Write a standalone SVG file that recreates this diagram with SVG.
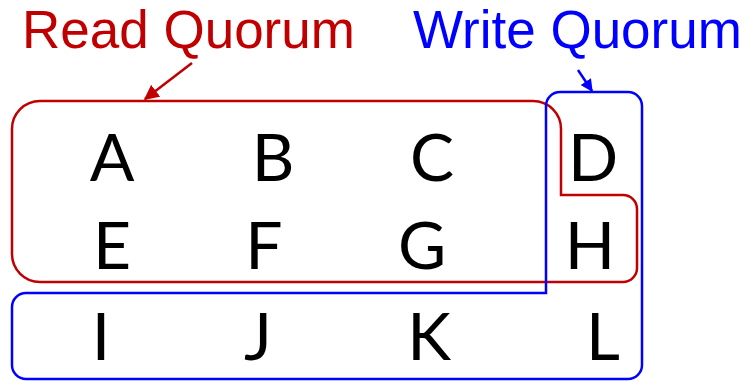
<svg xmlns="http://www.w3.org/2000/svg" width="752" height="381" viewBox="0 0 752 381">
  <style>
    .title { font-family: "Liberation Sans", Arial, sans-serif; font-size: 53px; }
    .node { font-family: Lato, "Open Sans", sans-serif; font-size: 66px; fill: #000; text-anchor: middle; }
    .read { fill: none; stroke: #C00000; stroke-width: 2.5; }
    .write { fill: none; stroke: #0000FF; stroke-width: 2.5; }
  </style>
  <defs>
    <marker id="headRed" viewBox="0 0 10 10" refX="9" refY="5" markerWidth="6" markerHeight="6" markerUnits="strokeWidth" orient="auto">
      <path d="M0,0 L10,5 L0,10 Z" fill="#C00000"/>
    </marker>
    <marker id="headBlue" viewBox="0 0 10 10" refX="9" refY="5" markerWidth="5" markerHeight="5" markerUnits="strokeWidth" orient="auto">
      <path d="M0,0 L10,5 L0,10 Z" fill="#0000FF"/>
    </marker>
  </defs>

  <rect width="752" height="381" fill="#fff"/>

  <!-- quorum labels -->
  <text class="title" x="22" y="48" fill="#C00000">Read Quorum</text>
  <text class="title" x="413" y="48" fill="#0000FF">Write Quorum</text>

  <!-- read quorum outline -->
  <g id="read-quorum">
    <path class="read" d="M40,101 H533 A28,28 0 0 1 561,129 V195 H623 A14,14 0 0 1 637,209 V268 A14,14 0 0 1 623,282 H40 A28,28 0 0 1 12,254 V129 A28,28 0 0 1 40,101 Z"/>
  </g>

  <!-- write quorum outline -->
  <g id="write-quorum">
    <path class="write" d="M560,92 H628 A14,14 0 0 1 642,106 V365 A14,14 0 0 1 628,379 H26 A14,14 0 0 1 12,365 V307 A14,14 0 0 1 26,293 H546 V106 A14,14 0 0 1 560,92 Z"/>
  </g>

  <!-- pointers from labels to outlines -->
  <g id="connectors">
    <line x1="192" y1="63" x2="145" y2="99" stroke="#C00000" stroke-width="2.5" marker-end="url(#headRed)"/>
    <line x1="578" y1="70" x2="592" y2="91" stroke="#0000FF" stroke-width="2.5" marker-end="url(#headBlue)"/>
  </g>

  <!-- replicas -->
  <g id="A"><text class="node" x="112" y="181">A</text></g>
  <g id="B"><text class="node" x="273" y="181">B</text></g>
  <g id="C"><text class="node" x="432" y="181">C</text></g>
  <g id="D"><text class="node" x="593" y="181">D</text></g>
  <g id="E"><text class="node" x="112" y="269">E</text></g>
  <g id="F"><text class="node" x="264" y="269">F</text></g>
  <g id="G"><text class="node" x="422" y="269">G</text></g>
  <g id="H"><text class="node" x="590" y="269">H</text></g>
  <g id="I"><text class="node" x="101" y="360">I</text></g>
  <g id="J"><text class="node" x="258" y="360">J</text></g>
  <g id="K"><text class="node" x="429" y="360">K</text></g>
  <g id="L"><text class="node" x="603" y="360">L</text></g>
</svg>
